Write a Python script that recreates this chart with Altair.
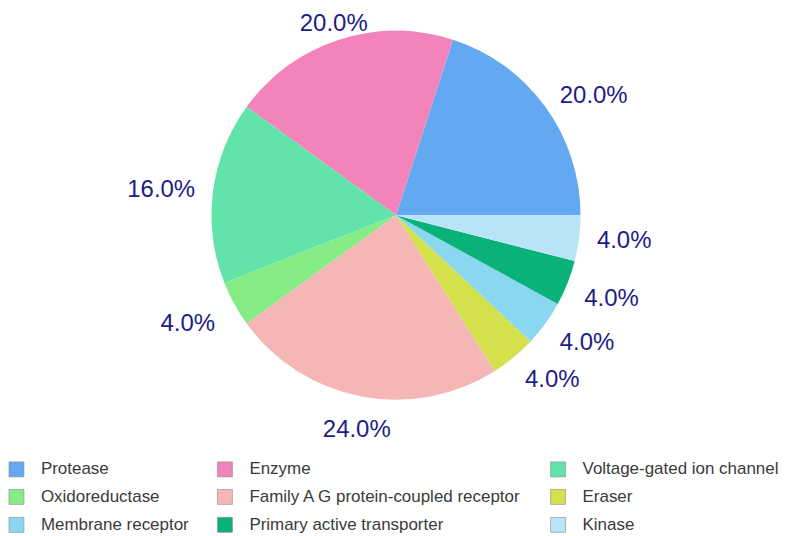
import math
import altair as alt
import pandas as pd

categories = [
    "Protease", "Enzyme", "Voltage-gated ion channel", "Oxidoreductase",
    "Family A G protein-coupled receptor", "Eraser", "Membrane receptor",
    "Primary active transporter", "Kinase",
]
values = [20.0, 20.0, 16.0, 4.0, 24.0, 4.0, 4.0, 4.0, 4.0]
colors = [
    "#63a9f2", "#f283bb", "#62e3aa", "#86ec86", "#f5b6b6",
    "#d4e04c", "#8ad7f0", "#0ab27a", "#b8e4f8",
]

total = sum(values)
rows = []
cum = 0.0
for i, (c, v) in enumerate(zip(categories, values)):
    mid = (cum + v / 2) / total * 2 * math.pi  # counterclockwise from east
    cum += v
    cx, sy = math.cos(mid), math.sin(mid)
    lab = f"{v / total * 100:.1f}%"
    side = "center" if abs(cx) < 0.4 else ("left" if cx > 0 else "right")
    low = "low" if sy < -0.3 else "up"
    row = {"category": c, "value": v, "idx": i}
    for s in ("left", "right", "center"):
        for h in ("up", "low"):
            row[f"{s}_{h}"] = lab if (s == side and h == low) else ""
    rows.append(row)
df = pd.DataFrame(rows)

theta = alt.Theta("value:Q", stack=True,
                  scale=alt.Scale(range=[math.pi / 2, math.pi / 2 - 2 * math.pi]))
color = alt.Color(
    "category:N",
    scale=alt.Scale(domain=categories, range=colors),
    sort=categories,
    legend=alt.Legend(
        title=None, orient="none", legendX=0, legendY=453,
        direction="horizontal", columns=3, symbolType="square",
        symbolSize=225, symbolStrokeColor="#8a8a8a", symbolStrokeWidth=0.6,
        labelFontSize=17, labelFont="Liberation Sans", labelColor="#3a3a3a",
        labelOffset=16, columnPadding=26, rowPadding=9, labelLimit=400,
    ),
)
order = alt.Order("idx:Q")

pie = alt.Chart(df).mark_arc(outerRadius=185, stroke=None).encode(
    theta=theta, color=color, order=order)

layers = [pie]
txt_kw = dict(fontSize=24, font="Liberation Sans", color="#1c1c87", baseline="middle")
radii = {("left", "up"): 203, ("left", "low"): 203,
         ("right", "up"): 203, ("right", "low"): 207,
         ("center", "up"): 202, ("center", "low"): 210}
for s in ("left", "right", "center"):
    for h, dy in (("up", 0), ("low", 9)):
        layers.append(
            alt.Chart(df).mark_text(radius=radii[(s, h)], align=s, dy=dy, **txt_kw).encode(
                theta=theta, detail="category:N", order=order,
                text=f"{s}_{h}:N")
        )

chart = alt.layer(*layers).properties(
    width=778, height=414,
    autosize=alt.AutoSizeParams(type="none"),
    padding={"left": 0, "top": 0, "right": 0, "bottom": 114},
).configure_view(stroke=None)

chart.save("out.html", embed_options={"renderer": "svg", "actions": False})
